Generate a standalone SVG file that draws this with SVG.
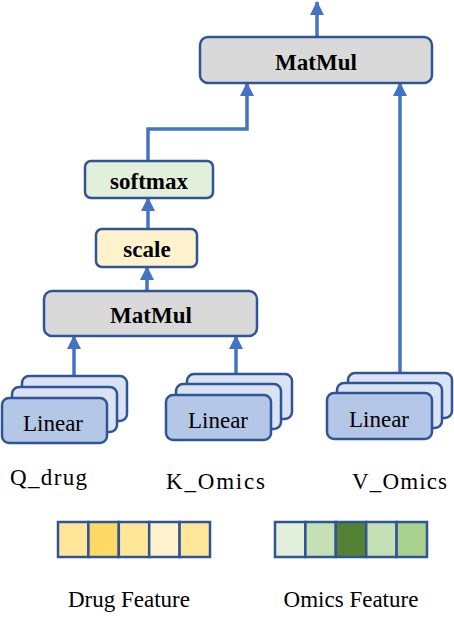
<svg xmlns="http://www.w3.org/2000/svg" width="454" height="620" viewBox="0 0 454 620">
<style>
.box{stroke:#2F5597;stroke-width:2.5}
.gray{fill:#D9D9D9}
.lin{fill:#B4C7E7}
.linb{fill:#DAE3F3}
.tb{font-family:'Liberation Serif','Times New Roman',Times,'DejaVu Serif',serif;font-weight:bold;font-size:23px;text-anchor:middle;fill:#000}
.t{font-family:'Liberation Serif','Times New Roman',Times,'DejaVu Serif',serif;font-size:23px;fill:#000}
.c{text-anchor:middle}
.conn{fill:none;stroke:#4472C4;stroke-width:3.5;marker-end:url(#ah)}
.cell{stroke:#2F5597;stroke-width:2.5}
</style>
<defs>
<marker id="ah" markerUnits="userSpaceOnUse" markerWidth="14" markerHeight="14" refX="13" refY="7" orient="auto">
<path d="M0,0 L14,7 L0,14 z" fill="#4472C4"/>
</marker>
</defs>
<g id="connectors">
<path class="conn" d="M317,37 V2"/>
<path class="conn" d="M148,161 V129 H247 V83"/>
<path class="conn" d="M148,229 V198"/>
<path class="conn" d="M147,291 V267"/>
<path class="conn" d="M74,376 V336"/>
<path class="conn" d="M236,374 V336"/>
<path class="conn" d="M400,373 V83"/>
</g>
<g id="matmul-top">
<rect class="box gray" x="200" y="37" width="232" height="46" rx="8"/>
<text class="tb" x="316" y="70">MatMul</text>
</g>
<g id="softmax">
<rect class="box" fill="#E2EFDA" x="85" y="161" width="128" height="37" rx="6"/>
<text class="tb" x="149" y="189">softmax</text>
</g>
<g id="scale">
<rect class="box" fill="#FFF2CC" x="96" y="229" width="101" height="38" rx="6"/>
<text class="tb" x="147" y="257">scale</text>
</g>
<g id="matmul-bottom">
<rect class="box gray" x="44" y="291" width="213" height="45" rx="8"/>
<text class="tb" x="151" y="323">MatMul</text>
</g>
<g id="linear-q">
<rect class="box linb" x="22" y="376" width="105" height="45" rx="7"/>
<rect class="box linb" x="12" y="387" width="105" height="45" rx="7"/>
<rect class="box lin" x="2" y="398" width="105" height="45" rx="7"/>
<text class="t c" x="53" y="431">Linear</text>
</g>
<g id="linear-k">
<rect class="box linb" x="187" y="374" width="105" height="45" rx="7"/>
<rect class="box linb" x="176" y="384" width="105" height="45" rx="7"/>
<rect class="box lin" x="166" y="395" width="105" height="45" rx="7"/>
<text class="t c" x="218" y="428">Linear</text>
</g>
<g id="linear-v">
<rect class="box linb" x="348" y="373" width="104" height="45" rx="7"/>
<rect class="box linb" x="337" y="383" width="105" height="45" rx="7"/>
<rect class="box lin" x="327" y="393" width="105" height="46" rx="7"/>
<text class="t c" x="379" y="427">Linear</text>
</g>
<g id="labels">
<text class="t" x="10" y="485" textLength="77">Q_drug</text>
<text class="t" x="166" y="489" textLength="99">K_Omics</text>
<text class="t" x="352" y="489" textLength="95">V_Omics</text>
</g>
<g id="drug-feature">
<rect class="cell" fill="#FFE699" x="58" y="522" width="30.4" height="35"/>
<rect class="cell" fill="#FFD966" x="88.4" y="522" width="30.4" height="35"/>
<rect class="cell" fill="#FFE699" x="118.8" y="522" width="30.4" height="35"/>
<rect class="cell" fill="#FFF2CC" x="149.2" y="522" width="30.4" height="35"/>
<rect class="cell" fill="#FFE699" x="179.6" y="522" width="30.4" height="35"/>
<text class="t c" x="129" y="607">Drug Feature</text>
</g>
<g id="omics-feature">
<rect class="cell" fill="#E2EFDA" x="275" y="522" width="30.4" height="35"/>
<rect class="cell" fill="#C5E0B4" x="305.4" y="522" width="30.4" height="35"/>
<rect class="cell" fill="#548235" x="335.8" y="522" width="30.4" height="35"/>
<rect class="cell" fill="#C5E0B4" x="366.2" y="522" width="30.4" height="35"/>
<rect class="cell" fill="#A9D18E" x="396.6" y="522" width="30.4" height="35"/>
<text class="t c" x="351" y="607">Omics Feature</text>
</g>
</svg>
